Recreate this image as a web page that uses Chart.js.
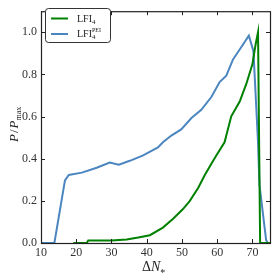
<!DOCTYPE html>
<html>
<head>
<meta charset="utf-8">
<script src="https://cdn.jsdelivr.net/npm/chart.js@4/dist/chart.umd.min.js"></script>
<style>
  html, body { margin: 0; padding: 0; background: #fff; }
  #wrap { width: 277px; height: 280px; }
</style>
</head>
<body>
<div id="wrap"><canvas id="c" width="277" height="280"></canvas></div>
<script>
// values
const peiX = [10, 13.8, 16.8, 17.9, 21.6, 25.8, 29.5, 32.1, 35.2, 39, 43.2, 44.6, 47, 49.8, 52.7, 55.5, 58.4, 60.7, 62.6, 64.5, 66.4, 69.0, 70.3, 71.6, 72.0, 73.9, 74.3];
const peiY = [0, 0, 0.297, 0.323, 0.334, 0.357, 0.382, 0.372, 0.39, 0.416, 0.454, 0.478, 0.51, 0.539, 0.593, 0.632, 0.694, 0.764, 0.794, 0.871, 0.918, 0.984, 0.91, 0.478, 0.277, 0.014, 0];

const lfiX = [19.2, 23.0, 23.4, 30, 34.3, 37.6, 40.9, 44.6, 47.5, 50.3, 52.2, 54.6, 56.5, 58.4, 59.8, 62.1, 64.0, 66.4, 68.3, 70.0, 70.9, 71.6, 72.2, 75];
const lfiY = [0, 0, 0.012, 0.012, 0.017, 0.026, 0.037, 0.073, 0.115, 0.161, 0.199, 0.261, 0.323, 0.377, 0.416, 0.478, 0.601, 0.671, 0.756, 0.848, 0.941, 1.0, 0, 0];

const xTicks = [10, 20, 30, 40, 50, 60, 70];
const yTicks = [0.0, 0.2, 0.4, 0.6, 0.8, 1.0];

const GREEN = '#008000';
const BLUE = '#4b86c0';
const SERIF = '"Liberation Serif", "DejaVu Serif", serif';

function pts(xs, ys) {
    return xs.map((x, i) => ({ x, y: ys[i] }));
}

// draws the frame, inward ticks, legend and axis titles
const decor = {
    id: 'decor',
    afterDraw(chart) {
        const { ctx, chartArea: a, scales } = chart;
        const xs = scales.x, ys = scales.y;
        ctx.save();
        ctx.strokeStyle = '#222';
        ctx.lineWidth = 1;
        ctx.beginPath();
        xTicks.forEach(v => {
            const px = Math.round(xs.getPixelForValue(v)) + 0.5;
            ctx.moveTo(px, a.bottom); ctx.lineTo(px, a.bottom - 4);
            ctx.moveTo(px, a.top); ctx.lineTo(px, a.top + 4);
        });
        yTicks.forEach(v => {
            const py = Math.round(ys.getPixelForValue(v)) + 0.5;
            ctx.moveTo(a.left, py); ctx.lineTo(a.left + 4, py);
            ctx.moveTo(a.right, py); ctx.lineTo(a.right - 4, py);
        });
        ctx.stroke();
        ctx.lineWidth = 1.2;
        ctx.strokeRect(a.left + 0.5, a.top + 0.5, a.right - a.left, a.bottom - a.top);

        // legend
        ctx.fillStyle = '#fff';
        ctx.strokeStyle = '#333';
        ctx.lineWidth = 1;
        ctx.beginPath();
        ctx.roundRect(45.5, 8.5, 65, 34, 3);
        ctx.fill();
        ctx.stroke();
        ctx.lineWidth = 2;
        ctx.strokeStyle = GREEN;
        ctx.beginPath(); ctx.moveTo(51, 18.5); ctx.lineTo(68, 18.5); ctx.stroke();
        ctx.strokeStyle = BLUE;
        ctx.beginPath(); ctx.moveTo(51, 34); ctx.lineTo(68, 34); ctx.stroke();
        ctx.fillStyle = '#222';
        ctx.textBaseline = 'alphabetic';
        ctx.textAlign = 'left';
        ctx.font = '10px ' + SERIF;
        ctx.fillText('LFI', 77, 22);
        let w = ctx.measureText('LFI').width;
        ctx.font = '7px ' + SERIF;
        ctx.fillText('4', 77 + w, 24);
        ctx.font = '10px ' + SERIF;
        ctx.fillText('LFI', 77, 37);
        ctx.font = '7px ' + SERIF;
        ctx.fillText('4', 77 + w, 39);
        ctx.font = '6px ' + SERIF;
        ctx.fillText('PEI', 77 + w, 32);

        // x title: ΔN*
        ctx.fillStyle = '#222';
        ctx.font = '14px ' + SERIF;
        ctx.fillText('Δ', 142, 271);
        let dx = 142 + ctx.measureText('Δ').width;
        ctx.font = 'italic 14px ' + SERIF;
        ctx.fillText('N', dx, 271);
        dx += ctx.measureText('N').width;
        ctx.font = '10px ' + SERIF;
        ctx.fillText('*', dx, 276);

        // y title: P / Pmax
        ctx.translate(18, 142);
        ctx.rotate(-Math.PI / 2);
        let tx = 0;
        ctx.font = 'italic 13px ' + SERIF;
        ctx.fillText('P', tx, 0);
        tx += ctx.measureText('P').width + 1;
        ctx.font = '13px ' + SERIF;
        ctx.fillText('/', tx, 0);
        tx += ctx.measureText('/').width + 1;
        ctx.font = 'italic 13px ' + SERIF;
        ctx.fillText('P', tx, 0);
        tx += ctx.measureText('P').width;
        ctx.font = '8px ' + SERIF;
        ctx.fillText('max', tx, 3);
        ctx.restore();
    }
};

new Chart(document.getElementById('c').getContext('2d'), {
    type: 'line',
    data: {
        datasets: [
            {
                label: 'LFI4',
                data: pts(lfiX, lfiY),
                borderColor: GREEN,
                borderWidth: 2,
                pointRadius: 0,
                tension: 0,
                fill: false
            },
            {
                label: 'LFI4 PEI',
                data: pts(peiX, peiY),
                borderColor: BLUE,
                borderWidth: 2,
                pointRadius: 0,
                tension: 0,
                fill: false
            }
        ]
    },
    options: {
        responsive: false,
        animation: false,
        layout: { padding: { top: 6, right: 7, left: 0, bottom: 0 } },
        plugins: {
            legend: { display: false },
            tooltip: { enabled: false }
        },
        scales: {
            x: {
                type: 'linear',
                min: 10,
                max: 75,
                grid: { display: false, drawTicks: false },
                border: { display: false },
                afterFit(s) { s.height = 37; },
                afterBuildTicks(s) { s.ticks = xTicks.map(v => ({ value: v })); },
                ticks: {
                    padding: 3,
                    color: '#333',
                    font: { family: SERIF, size: 12 },
                    callback: v => String(v)
                }
            },
            y: {
                min: 0,
                max: 1.1,
                grid: { display: false, drawTicks: false },
                border: { display: false },
                afterFit(s) { s.width = 41; },
                afterBuildTicks(s) { s.ticks = yTicks.map(v => ({ value: v })); },
                ticks: {
                    padding: 4,
                    color: '#333',
                    font: { family: SERIF, size: 12 },
                    callback: v => v.toFixed(1)
                }
            }
        }
    },
    plugins: [decor]
});
</script>
</body>
</html>
